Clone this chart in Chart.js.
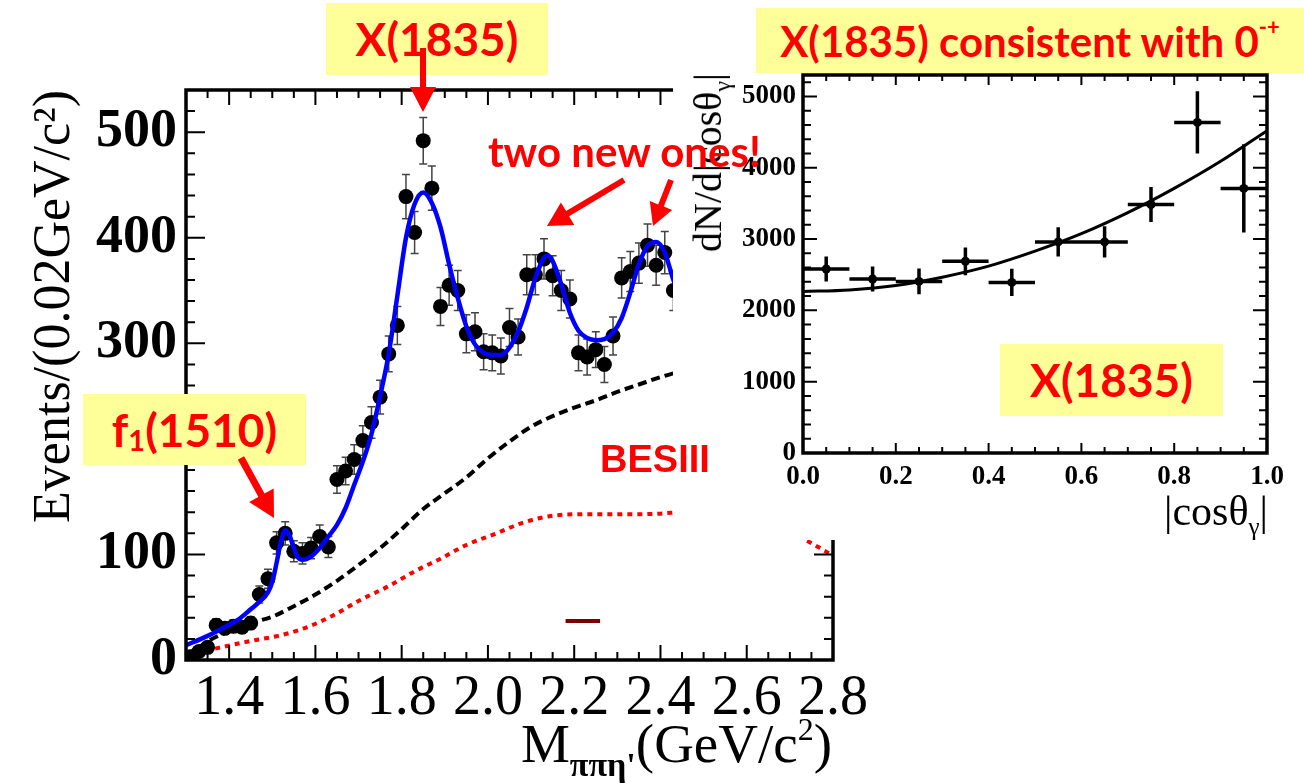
<!DOCTYPE html>
<html>
<head>
<meta charset="utf-8">
<script src="https://cdn.jsdelivr.net/npm/chart.js@4.4.1/dist/chart.umd.min.js"></script>
<style>
  html, body { margin: 0; padding: 0; background: #fff; }
  #wrap { position: relative; width: 1304px; height: 783px; overflow: hidden; }
  canvas { position: absolute; }
  #mainCanvas { left: 0; top: 0; }
  #insetCanvas { left: 600px; top: 0; }
  #cover { position: absolute; left: 673px; top: 0; width: 631px; height: 540px; background: #fff; }
  .note { position: absolute; font-family: Lato, sans-serif; font-weight: bold; color: #ff0000; line-height: 1; white-space: nowrap; }
  .box { background: #ffff99; display: flex; align-items: center; justify-content: center; }
  .axt { position: absolute; font-family: "Liberation Serif", serif; color: #000; line-height: 1; white-space: nowrap; }
  .lo { position: relative; line-height: 0; }
</style>
</head>
<body>
<div id="wrap">
  <canvas id="mainCanvas" width="1304" height="783"></canvas>
  <div class="axt" style="right:472px; top:716px; font-size:55px;">M<span class="lo" style="font-size:34px; font-weight:bold; top:14px;">&pi;&pi;&eta;'</span>(GeV/c<span class="lo" style="font-size:32px; top:-22px;">2</span>)</div>
  <div id="cover"></div>
  <canvas id="insetCanvas" width="704" height="560"></canvas>
  <div class="axt" style="right:36px; top:490px; font-size:42px;">|cos&theta;<span class="lo" style="font-size:25px; top:10px;">&gamma;</span>|</div>
  <div class="axt" style="left:708px; top:73px; font-size:40px; transform-origin:0 0; transform:rotate(-90deg) translate(-100%,-50%);">dN/d|cos&theta;<span class="lo" style="font-size:24px; top:9px;">&gamma;</span>|</div>

  <div class="note box" style="left:326px; top:3px; width:222px; height:72px; font-size:46px;">X(1835)</div>
  <div class="note box" style="left:756px; top:8px; width:548px; height:65px; font-size:42px;">X(1835) consistent with 0<span class="lo" style="font-size:22px; top:-14px;">-+</span></div>
  <div class="note box" style="left:83px; top:394px; width:223px; height:71px; font-size:46px;">f<span class="lo" style="font-size:29px; top:10px;">1</span>(1510)</div>
  <div class="note box" style="left:1000px; top:344px; width:223px; height:72px; font-size:46px;">X(1835)</div>
  <div class="note" style="left:488px; top:130px; font-size:42px;">two new ones!</div>
  <div class="note" style="left:600px; top:440px; font-size:38px; font-family:'Liberation Sans', Arial, sans-serif;">BESIII</div>
  <svg id="arrows" width="1304" height="783" style="position:absolute; left:0; top:0;"></svg>
</div>

<script>
// ---- main spectrum: M(pi pi eta') ----
const massBins = [1.31, 1.33, 1.35, 1.37, 1.39, 1.41, 1.43, 1.45, 1.47, 1.49,
  1.51, 1.53, 1.55, 1.57, 1.59, 1.61, 1.63, 1.65, 1.67, 1.69,
  1.71, 1.73, 1.75, 1.77, 1.79, 1.81, 1.83, 1.85, 1.87, 1.89,
  1.91, 1.93, 1.95, 1.97, 1.99, 2.01, 2.03, 2.05, 2.07, 2.09,
  2.11, 2.13, 2.15, 2.17, 2.19, 2.21, 2.23, 2.25, 2.27, 2.29,
  2.31, 2.33, 2.35, 2.37, 2.39, 2.41, 2.43];
const eventCounts = [3, 8, 12, 33, 30, 32, 31, 35, 62, 77,
  111, 120, 103, 101, 106, 117, 107, 171, 179, 190,
  208, 225, 249, 290, 317, 439, 405, 492, 447, 335,
  355, 350, 309, 311, 292, 291, 288, 315, 306, 365,
  365, 380, 364, 350, 342, 291, 287, 294, 280, 307,
  362, 368, 376, 393, 374, 386, 350];
const eventErrors = [2, 3, 3.5, 6, 5.5, 6, 5.5, 6, 8, 9,
  10.5, 11, 10, 10, 10, 11, 10, 13, 13, 14,
  14, 15, 16, 17, 18, 21, 20, 22, 21, 18,
  19, 19, 18, 18, 17, 17, 17, 18, 17, 19,
  19, 19, 19, 19, 18, 17, 17, 17, 17, 18,
  19, 19, 19, 20, 19, 20, 19];

// total fit (blue)
const fitMass = [1.30, 1.34, 1.38, 1.42, 1.45, 1.47, 1.49, 1.50, 1.51, 1.52,
  1.53, 1.54, 1.55, 1.56, 1.57, 1.59, 1.61, 1.63, 1.65, 1.67,
  1.69, 1.71, 1.73, 1.75, 1.77, 1.79, 1.81, 1.83, 1.85, 1.87,
  1.89, 1.91, 1.93, 1.95, 1.97, 1.99, 2.01, 2.03, 2.05, 2.07,
  2.09, 2.11, 2.13, 2.14, 2.15, 2.17, 2.19, 2.21, 2.23, 2.25,
  2.27, 2.29, 2.31, 2.33, 2.35, 2.37, 2.39, 2.41, 2.43, 2.445];
const fitEvents = [14, 21, 29, 38, 48, 55, 64, 74, 92, 112,
  123, 118, 106, 97, 95, 98, 106, 117, 128, 144,
  166, 188, 214, 250, 290, 345, 400, 432, 443, 433,
  410, 375, 343, 316, 299, 291, 289, 289, 296, 311,
  334, 362, 381, 383, 378, 356, 329, 312, 305, 303,
  304, 310, 324, 348, 375, 392, 396, 386, 360, 345];

// background (black dashed)
const bkgMass = [1.30, 1.33, 1.36, 1.40, 1.45, 1.50, 1.55, 1.60, 1.65, 1.70,
  1.75, 1.80, 1.85, 1.90, 1.95, 2.00, 2.05, 2.10, 2.15, 2.20,
  2.25, 2.30, 2.35, 2.40, 2.45];
const bkgEvents = [5, 12, 20, 27, 35, 41, 51, 62, 75, 90,
  106, 124, 143, 158, 173, 191, 207, 221, 231, 239,
  246, 254, 261, 268, 274];

// phase space (red dotted)
const phspMass = [1.30, 1.37, 1.45, 1.52, 1.58, 1.64, 1.70, 1.77, 1.83, 1.89,
  1.95, 2.02, 2.08, 2.14, 2.20, 2.30, 2.39, 2.44];
const phspEvents = [4, 11, 18, 23.5, 31, 42, 56, 70, 84, 96,
  109, 120, 130, 136, 138, 138, 138.5, 140];
const phspTailMass = [2.74, 2.77, 2.80];
const phspTailEvents = [113, 106, 99];

const markMass = [2.18, 2.26];
const markEvents = [37, 37];

const massTicks = [1.4, 1.6, 1.8, 2.0, 2.2, 2.4, 2.6, 2.8];
const eventTicks = [0, 100, 200, 300, 400, 500];

// ---- inset: |cos theta_gamma| ----
const cosBins = [0.05, 0.15, 0.25, 0.35, 0.45, 0.55, 0.65, 0.75, 0.85, 0.95];
const angularCounts = [2580, 2440, 2406, 2688, 2392, 2960, 2960, 3485, 4635, 3710];
const angularErrors = [176, 176, 180, 195, 190, 206, 220, 246, 436, 620];
const cosBinHalf = 0.05;
const fitCos = [0, 0.1, 0.2, 0.3, 0.4, 0.5, 0.6, 0.7, 0.8, 0.9, 1.0];
const fitAngular = [2265, 2287, 2350, 2465, 2620, 2830, 3075, 3370, 3710, 4090, 4520];
const cosTicks = [0, 0.2, 0.4, 0.6, 0.8, 1.0];
const angularTicks = [0, 1000, 2000, 3000, 4000, 5000];

const serif = '"Liberation Serif", "Times New Roman", serif';

function pts(xs, ys) {
  return xs.map((x, i) => ({ x: x, y: ys[i] }));
}

function tickValues(min, max, step) {
  const out = [];
  const first = Math.ceil(min / step - 1e-6);
  for (let k = first; k * step <= max + 1e-9; k++) out.push(k * step);
  return out;
}

function isMajor(v, major) {
  return Math.abs(v / major - Math.round(v / major)) < 1e-6;
}

// ROOT-like frame with ticks pointing inside
function makeFrame(cfg) {
  return {
    id: 'frame',
    afterDatasetsDraw(chart) {
      const ctx = chart.ctx;
      const a = chart.chartArea;
      const sx = chart.scales.x, sy = chart.scales.y;
      ctx.save();
      ctx.strokeStyle = '#000';
      ctx.lineWidth = cfg.tickWidth;
      ctx.beginPath();
      tickValues(sx.min, sx.max, cfg.xMinor).forEach(v => {
        const px = sx.getPixelForValue(v);
        const len = isMajor(v, cfg.xMajor) ? cfg.xMajorLen : cfg.xMinorLen;
        ctx.moveTo(px, a.bottom); ctx.lineTo(px, a.bottom - len);
        ctx.moveTo(px, a.top); ctx.lineTo(px, a.top + len);
      });
      tickValues(sy.min, sy.max, cfg.yMinor).forEach(v => {
        const py = sy.getPixelForValue(v);
        const len = isMajor(v, cfg.yMajor) ? cfg.yMajorLen : cfg.yMinorLen;
        ctx.moveTo(a.left, py); ctx.lineTo(a.left + len, py);
        ctx.moveTo(a.right, py); ctx.lineTo(a.right - len, py);
      });
      ctx.stroke();
      ctx.lineWidth = cfg.lineWidth;
      ctx.strokeRect(a.left, a.top, a.right - a.left, a.bottom - a.top);
      ctx.restore();
    }
  };
}

const errorBars = {
  id: 'errorBars',
  beforeDatasetsDraw(chart) {
    const ctx = chart.ctx;
    const x = chart.scales.x, y = chart.scales.y;
    chart.data.datasets.forEach(d => {
      if (!d.errY) return;
      ctx.save();
      ctx.strokeStyle = d.errColor;
      ctx.lineWidth = d.errWidth;
      ctx.beginPath();
      d.data.forEach((p, i) => {
        const px = x.getPixelForValue(p.x);
        const top = y.getPixelForValue(p.y + d.errY[i]);
        const bot = y.getPixelForValue(p.y - d.errY[i]);
        ctx.moveTo(px, top); ctx.lineTo(px, bot);
        if (d.errCap) {
          ctx.moveTo(px - d.errCap, top); ctx.lineTo(px + d.errCap, top);
          ctx.moveTo(px - d.errCap, bot); ctx.lineTo(px + d.errCap, bot);
        }
        if (d.errX) {
          const py = y.getPixelForValue(p.y);
          ctx.moveTo(x.getPixelForValue(p.x - d.errX), py);
          ctx.lineTo(x.getPixelForValue(p.x + d.errX), py);
        }
      });
      ctx.stroke();
      ctx.restore();
    });
  }
};

new Chart(document.getElementById('mainCanvas'), {
  type: 'scatter',
  data: {
    datasets: [
      { data: pts(fitMass, fitEvents), showLine: true, borderColor: '#0000ff', borderWidth: 4.5,
        pointRadius: 0, cubicInterpolationMode: 'monotone', order: 0 },
      { data: pts(massBins, eventCounts), backgroundColor: '#000', borderColor: '#000',
        pointRadius: 7.5, pointBorderWidth: 0, showLine: false, order: 1,
        errY: eventErrors, errColor: '#444', errWidth: 1.5, errCap: 4 },
      { data: pts(bkgMass, bkgEvents), showLine: true, borderColor: '#000', borderWidth: 4,
        borderDash: [9, 5], pointRadius: 0, cubicInterpolationMode: 'monotone', order: 2 },
      { data: pts(phspMass, phspEvents), showLine: true, borderColor: '#ff0000', borderWidth: 4,
        borderDash: [5, 5], pointRadius: 0, cubicInterpolationMode: 'monotone', order: 3 },
      { data: pts(phspTailMass, phspTailEvents), showLine: true, borderColor: '#ff0000', borderWidth: 4,
        borderDash: [5, 5], pointRadius: 0, order: 3 },
      { data: pts(markMass, markEvents), showLine: true, borderColor: '#7a0000', borderWidth: 4,
        pointRadius: 0, order: 4 }
    ]
  },
  options: {
    responsive: false,
    animation: false,
    layout: { padding: { top: 90, right: 471, left: 0, bottom: 0 } },
    plugins: { legend: { display: false }, tooltip: { enabled: false } },
    scales: {
      x: {
        type: 'linear', min: 1.3, max: 2.8,
        grid: { display: false, drawTicks: false }, border: { display: false },
        afterBuildTicks: s => { s.ticks = massTicks.map(v => ({ value: v })); },
        ticks: { font: { family: serif, size: 56 }, color: '#000', padding: 6,
          maxRotation: 0, autoSkip: false, callback: v => v.toFixed(1) },
        afterFit: s => { s.height = 123; }
      },
      y: {
        type: 'linear', min: 0, max: 540,
        grid: { display: false, drawTicks: false }, border: { display: false },
        afterBuildTicks: s => { s.ticks = eventTicks.map(v => ({ value: v })); },
        ticks: { font: { family: serif, size: 54, weight: 'bold' }, color: '#000', padding: 9,
          autoSkip: false, callback: v => String(v) },
        title: { display: true, text: 'Events/(0.02GeV/c²)', align: 'end', color: '#000',
          font: { family: serif, size: 52 }, padding: { top: 24 } },
        afterFit: s => { s.width = 186; }
      }
    }
  },
  plugins: [errorBars, makeFrame({
    xMinor: 0.05, xMajor: 0.2, yMinor: 20, yMajor: 100,
    xMajorLen: 15, xMinorLen: 8, yMajorLen: 19, yMinorLen: 9,
    tickWidth: 2, lineWidth: 3.5
  })]
});

new Chart(document.getElementById('insetCanvas'), {
  type: 'scatter',
  data: {
    datasets: [
      { data: pts(fitCos, fitAngular), showLine: true, borderColor: '#000', borderWidth: 3,
        pointRadius: 0, cubicInterpolationMode: 'monotone', order: 0 },
      { data: pts(cosBins, angularCounts), backgroundColor: '#000', borderColor: '#000',
        pointRadius: 4.5, pointBorderWidth: 0, showLine: false, order: 1,
        errY: angularErrors, errX: cosBinHalf, errColor: '#000', errWidth: 3.5 }
    ]
  },
  options: {
    responsive: false,
    animation: false,
    layout: { padding: { top: 75, right: 37, left: 0, bottom: 0 } },
    plugins: { legend: { display: false }, tooltip: { enabled: false } },
    scales: {
      x: {
        type: 'linear', min: 0, max: 1,
        grid: { display: false, drawTicks: false }, border: { display: false },
        afterBuildTicks: s => { s.ticks = cosTicks.map(v => ({ value: v })); },
        ticks: { font: { family: serif, size: 27, weight: 'bold' }, color: '#000', padding: 8,
          maxRotation: 0, autoSkip: false, callback: v => v.toFixed(1) },
        afterFit: s => { s.height = 107; }
      },
      y: {
        type: 'linear', min: 0, max: 5300,
        grid: { display: false, drawTicks: false }, border: { display: false },
        afterBuildTicks: s => { s.ticks = angularTicks.map(v => ({ value: v })); },
        ticks: { font: { family: serif, size: 27, weight: 'bold' }, color: '#000', padding: 7,
          autoSkip: false, callback: v => String(v) },
        afterFit: s => { s.width = 203; }
      }
    }
  },
  plugins: [errorBars, makeFrame({
    xMinor: 0.05, xMajor: 0.2, yMinor: 200, yMajor: 1000,
    xMajorLen: 10, xMinorLen: 6, yMajorLen: 14, yMinorLen: 8,
    tickWidth: 2, lineWidth: 3.5
  })]
});

// annotation arrows
function arrow(x1, y1, x2, y2, shaft, headLen, headHalf) {
  const dx = x2 - x1, dy = y2 - y1, L = Math.hypot(dx, dy);
  const ux = dx / L, uy = dy / L, nx = -uy, ny = ux;
  const bx = x2 - ux * headLen, by = y2 - uy * headLen;
  const p = [
    [x1 + nx * shaft / 2, y1 + ny * shaft / 2],
    [bx + nx * shaft / 2, by + ny * shaft / 2],
    [bx + nx * headHalf, by + ny * headHalf],
    [x2, y2],
    [bx - nx * headHalf, by - ny * headHalf],
    [bx - nx * shaft / 2, by - ny * shaft / 2],
    [x1 - nx * shaft / 2, y1 - ny * shaft / 2]
  ];
  return '<polygon fill="#ff0000" points="' + p.map(q => q[0].toFixed(1) + ',' + q[1].toFixed(1)).join(' ') + '"/>';
}
document.getElementById('arrows').innerHTML =
  arrow(423, 48, 423, 112, 6, 25, 13) +
  arrow(241, 458, 274, 518, 7, 26, 14) +
  arrow(624, 180, 547, 226, 6, 24, 13) +
  arrow(671, 180, 653, 226, 6, 22, 12);
</script>
</body>
</html>
